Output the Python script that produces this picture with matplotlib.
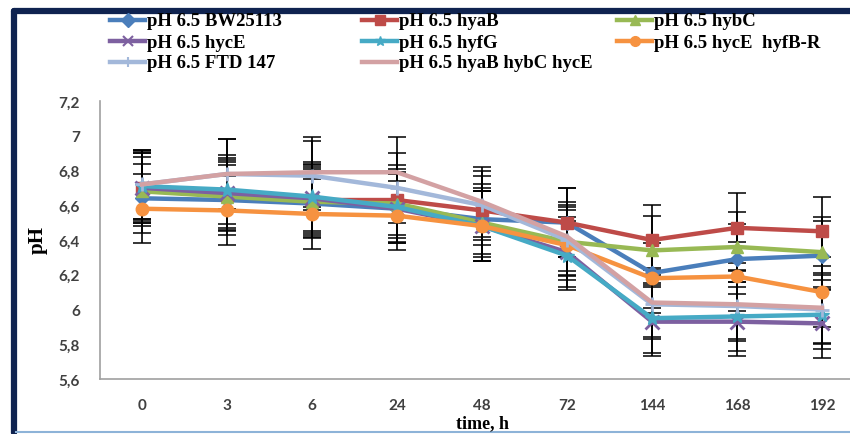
import matplotlib
matplotlib.use("Agg")
import matplotlib.pyplot as plt
from matplotlib.lines import Line2D
import numpy as np

# Sampling times (h) and mean pH of each strain
times = ["0", "3", "6", "24", "48", "72", "144", "168", "192"]
ph_bw25113 = [6.64, 6.63, 6.61, 6.58, 6.52, 6.50, 6.21, 6.29, 6.31]
ph_hyaB = [6.70, 6.66, 6.63, 6.63, 6.57, 6.50, 6.40, 6.47, 6.45]
ph_hybC = [6.68, 6.65, 6.62, 6.61, 6.50, 6.39, 6.34, 6.36, 6.33]
ph_hycE = [6.70, 6.67, 6.64, 6.58, 6.48, 6.33, 5.93, 5.93, 5.92]
ph_hyfG = [6.71, 6.69, 6.65, 6.59, 6.48, 6.31, 5.95, 5.96, 5.97]
ph_hycE_hyfBR = [6.58, 6.57, 6.55, 6.54, 6.48, 6.37, 6.18, 6.19, 6.10]
ph_ftd147 = [6.72, 6.78, 6.77, 6.70, 6.60, 6.40, 6.03, 6.02, 6.00]
ph_hyaB_hybC_hycE = [6.72, 6.78, 6.79, 6.79, 6.62, 6.42, 6.04, 6.03, 6.01]

# Standard deviation used for the error bars
ph_sd = 0.2

labels = ["pH 6.5 BW25113", "pH 6.5 hyaB", "pH 6.5 hybC", "pH 6.5 hycE",
          "pH 6.5 hyfG", "pH 6.5 hycE  hyfB-R", "pH 6.5 FTD 147",
          "pH 6.5 hyaB hybC hycE"]
ytick_vals = [5.6, 5.8, 6.0, 6.2, 6.4, 6.6, 6.8, 7.0, 7.2]
ytick_text = ["5,6", "5,8", "6", "6,2", "6,4", "6,6", "6,8", "7", "7,2"]

series = [ph_bw25113, ph_hyaB, ph_hybC, ph_hycE, ph_hyfG,
          ph_hycE_hyfBR, ph_ftd147, ph_hyaB_hybC_hycE]
colors = ["#4A7EBB", "#BE4B48", "#98B954", "#7D60A0", "#46AAC5",
          "#F69240", "#A3B8DA", "#D3A1A3"]
markers = ["D", "s", "^", "x", "*", "o", "+", None]
msizes = [7, 9, 9, 10, 11, 9, 10, 0]

fig = plt.figure(figsize=(8.5, 4.35), dpi=100)
fig.patch.set_facecolor("white")

W, H = 850, 435
def fx(px):
    return px / W
def fy(py):
    return 1 - py / H

# chart frame: dark border on left/top, light line at the bottom
fig.add_artist(Line2D([fx(14), fx(14)], [fy(434), fy(12)], color="#0F2350",
                      lw=4.5, transform=fig.transFigure, solid_capstyle="round"))
fig.add_artist(Line2D([fx(14), fx(850)], [fy(11.5), fy(11.5)], color="#0F2350",
                      lw=4.5, transform=fig.transFigure, solid_capstyle="round"))
fig.add_artist(Line2D([fx(16), fx(850)], [fy(433), fy(433)], color="#8DB3D8",
                      lw=1.5, transform=fig.transFigure))

ax = fig.add_axes([fx(99.5), fy(380), fx(864.5) - fx(99.5), fy(102) - fy(380)])
x = np.arange(len(times))

for vals, lab, col, mk, ms in zip(series, labels, colors, markers, msizes):
    ax.errorbar(x, vals, yerr=ph_sd, fmt="none", ecolor="black", elinewidth=1.2,
                capsize=6.5, capthick=1.1, zorder=2)
    ax.plot(x, vals, color=col, lw=3.2, marker=mk, markersize=ms,
            markeredgewidth=2 if mk in ("x", "+") else 1,
            markeredgecolor=col, label=lab, zorder=3)

ax.set_xlim(-0.5, len(times) - 0.5)
ax.set_ylim(5.6, 7.2)
ax.set_xticks(x)
ax.set_xticklabels(times)
ax.set_yticks(ytick_vals)
ax.set_yticklabels(ytick_text)
ax.tick_params(length=0)
ax.tick_params(axis="x", pad=14)
ax.tick_params(axis="y", pad=14)
for t in ax.get_xticklabels() + ax.get_yticklabels():
    t.set_fontfamily("Lato")
    t.set_fontweight("bold")
    t.set_fontsize(11)
    t.set_color("#404040")

for s in ["top", "right"]:
    ax.spines[s].set_visible(False)
for s in ["left", "bottom"]:
    ax.spines[s].set_color("#A0A0A0")
    ax.spines[s].set_linewidth(1.2)

fig.text(fx(38), fy(240), "pH", rotation=90, ha="center", va="center",
         family="Liberation Serif", weight="bold", fontsize=15)
fig.text(fx(483), fy(424), "time, h", ha="center", va="center",
         family="Liberation Serif", weight="bold", fontsize=13)

# legend: three columns, filled row by row
col_x = [110, 362, 617]
row_y = [21, 42, 63]
for i, (lab, col, mk) in enumerate(zip(labels, colors, markers)):
    r, c = divmod(i, 3)
    x0, y0 = col_x[c], row_y[r]
    fig.add_artist(Line2D([fx(x0), fx(x0 + 35)], [fy(y0), fy(y0)], color=col,
                          lw=3.2, transform=fig.transFigure))
    if mk is not None:
        fig.add_artist(Line2D([fx(x0 + 17.5)], [fy(y0)], color=col, marker=mk,
                              markersize=7, markeredgecolor=col,
                              markeredgewidth=1.5 if mk in ("x", "+") else 1,
                              transform=fig.transFigure))
    fig.text(fx(x0 + 37), fy(y0 + 1), lab, ha="left", va="center",
             family="Liberation Serif", weight="bold", fontsize=13.5)

fig.savefig("out.png", dpi=100, facecolor="white")
